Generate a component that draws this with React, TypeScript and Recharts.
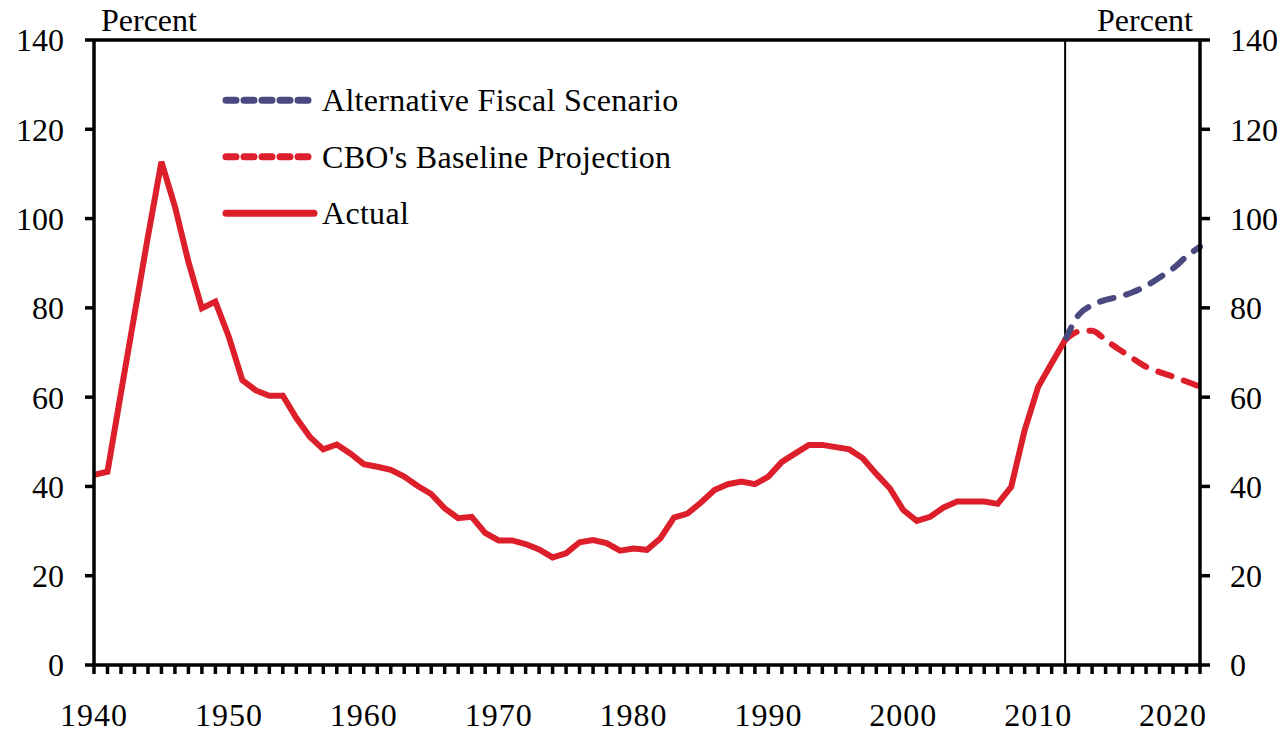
import { LineChart, Line, XAxis, YAxis, ReferenceLine, Legend } from 'recharts'

// debt held by the public, percent of GDP
const startYear = 1940
const endYear = 2022
const projectionStart = 2012

const actualDebt = [
  42.6, 43.3, 61.0, 78.5, 96.0, 112.7, 102.7, 90.3, 79.9, 81.4,
  73.5, 63.8, 61.5, 60.3, 60.3, 55.3, 51.1, 48.3, 49.4, 47.4,
  45.0, 44.4, 43.7, 42.2, 40.1, 38.3, 35.1, 32.9, 33.2, 29.6,
  27.9, 27.9, 27.1, 25.9, 24.1, 25.0, 27.5, 28.0, 27.3, 25.6,
  26.1, 25.8, 28.4, 33.0, 33.9, 36.4, 39.2, 40.5, 41.1, 40.5,
  42.2, 45.5, 47.4, 49.3, 49.3, 48.8, 48.3, 46.3, 42.8, 39.6,
  34.7, 32.3, 33.2, 35.3, 36.6, 36.6, 36.6, 36.1, 39.9, 52.6,
  62.3, 67.6, 72.8
]

// 2012 - 2022
const baselineProjection = [72.8, 74.7, 74.9, 72.8, 70.7, 68.7, 66.8, 65.6, 64.6, 63.5, 62.3]
const alternativeScenario = [72.8, 78.4, 80.6, 81.8, 82.5, 83.5, 84.9, 86.8, 88.8, 91.5, 93.7]

const yTicks = [0, 20, 40, 60, 80, 100, 120, 140]
const xLabelYears = [1940, 1950, 1960, 1970, 1980, 1990, 2000, 2010, 2020]

const legendItems = [
  { name: 'Alternative Fiscal Scenario', color: '#4b4a80', dashed: true },
  { name: "CBO's Baseline Projection", color: '#dc1f2b', dashed: true },
  { name: 'Actual', color: '#dc1f2b', dashed: false }
]

const years = Array.from({ length: endYear - startYear + 1 }, (_, i) => startYear + i)

const data = years.map((year, i) => ({
  year,
  actual: i < actualDebt.length ? actualDebt[i] : undefined,
  baseline: year >= projectionStart ? baselineProjection[year - projectionStart] : undefined,
  alternative: year >= projectionStart ? alternativeScenario[year - projectionStart] : undefined
}))

const FONT = 'Liberation Serif'

const renderXTick = (props: any) => {
  const { x, y, payload } = props
  if (!xLabelYears.includes(payload.value)) return <g />
  return (
    <text x={x} y={y} dy='0.71em' textAnchor='middle' fontSize={32} fill='#000' fontFamily={FONT} letterSpacing={1}>
      {payload.value}
    </text>
  )
}

const leftUnit = (props: any) => {
  const vb = props.viewBox
  return (
    <text x={vb.x + vb.width + 7} y={vb.y - 9} fontSize={32} fill='#000' fontFamily={FONT}>
      Percent
    </text>
  )
}

const rightUnit = (props: any) => {
  const vb = props.viewBox
  return (
    <text x={vb.x - 7} y={vb.y - 9} textAnchor='end' fontSize={32} fill='#000' fontFamily={FONT}>
      Percent
    </text>
  )
}

const ROW = 56.5

const renderLegend = () => (
  <svg width={520} height={ROW * legendItems.length}>
    {legendItems.map((item, i) => {
      const cy = ROW * i + ROW / 2
      return (
        <g key={item.name}>
          <line
            x1={8}
            y1={cy}
            x2={96}
            y2={cy}
            stroke={item.color}
            strokeWidth={7}
            strokeLinecap='round'
            strokeDasharray={item.dashed ? '10 8' : undefined}
          />
          <text x={104} y={cy + 11} fontSize={32} fill='#000' fontFamily={FONT} letterSpacing={0.3}>
            {item.name}
          </text>
        </g>
      )
    })}
  </svg>
)

export default function App () {
  const axisLine = { stroke: '#000', strokeWidth: 3.5 }
  const tickLine = { stroke: '#000', strokeWidth: 3.5 }

  return (
    <div style={{ position: 'absolute', left: 0, top: 0, width: 1285, height: 731, background: '#fff' }}>
      <LineChart
        width={1285}
        height={731}
        data={data}
        margin={{ top: 40, right: 0, bottom: 0, left: 0 }}
      >
        <XAxis
          dataKey='year'
          type='number'
          domain={[startYear, endYear]}
          ticks={years}
          interval={0}
          height={66}
          tickSize={9}
          tickMargin={29}
          axisLine={axisLine}
          tickLine={tickLine}
          tick={renderXTick}
        />
        <YAxis
          yAxisId='left'
          domain={[0, 140]}
          ticks={yTicks}
          interval={0}
          width={94}
          tickSize={9}
          tickMargin={21}
          axisLine={axisLine}
          tickLine={tickLine}
          tick={{ fontSize: 32, fill: '#000', fontFamily: FONT }}
          label={leftUnit}
        />
        <YAxis
          yAxisId='right'
          orientation='right'
          domain={[0, 140]}
          ticks={yTicks}
          interval={0}
          width={85}
          tickSize={10}
          tickMargin={20}
          axisLine={axisLine}
          tickLine={tickLine}
          tick={{ fontSize: 32, fill: '#000', fontFamily: FONT, textAnchor: 'start' }}
          label={rightUnit}
        />
        <ReferenceLine yAxisId='left' y={140} stroke='#000' strokeWidth={3.5} />
        <ReferenceLine yAxisId='left' x={projectionStart} stroke='#000' strokeWidth={2} />
        <Legend
          layout='vertical'
          align='center'
          verticalAlign='middle'
          content={renderLegend}
          wrapperStyle={{ left: 218, top: 72, width: 520 }}
        />
        <Line
          yAxisId='right'
          dataKey='baseline'
          stroke='#dc1f2b'
          strokeWidth={6}
          strokeDasharray='14 13'
          strokeLinecap='round'
          type='monotone'
          dot={false}
          activeDot={false}
          isAnimationActive={false}
        />
        <Line
          yAxisId='left'
          dataKey='alternative'
          stroke='#4b4a80'
          strokeWidth={6}
          strokeDasharray='14 13'
          strokeLinecap='round'
          type='monotone'
          dot={false}
          activeDot={false}
          isAnimationActive={false}
        />
        <Line
          yAxisId='left'
          dataKey='actual'
          stroke='#dc1f2b'
          strokeWidth={6}
          type='linear'
          dot={false}
          activeDot={false}
          isAnimationActive={false}
        />
      </LineChart>
    </div>
  )
}
